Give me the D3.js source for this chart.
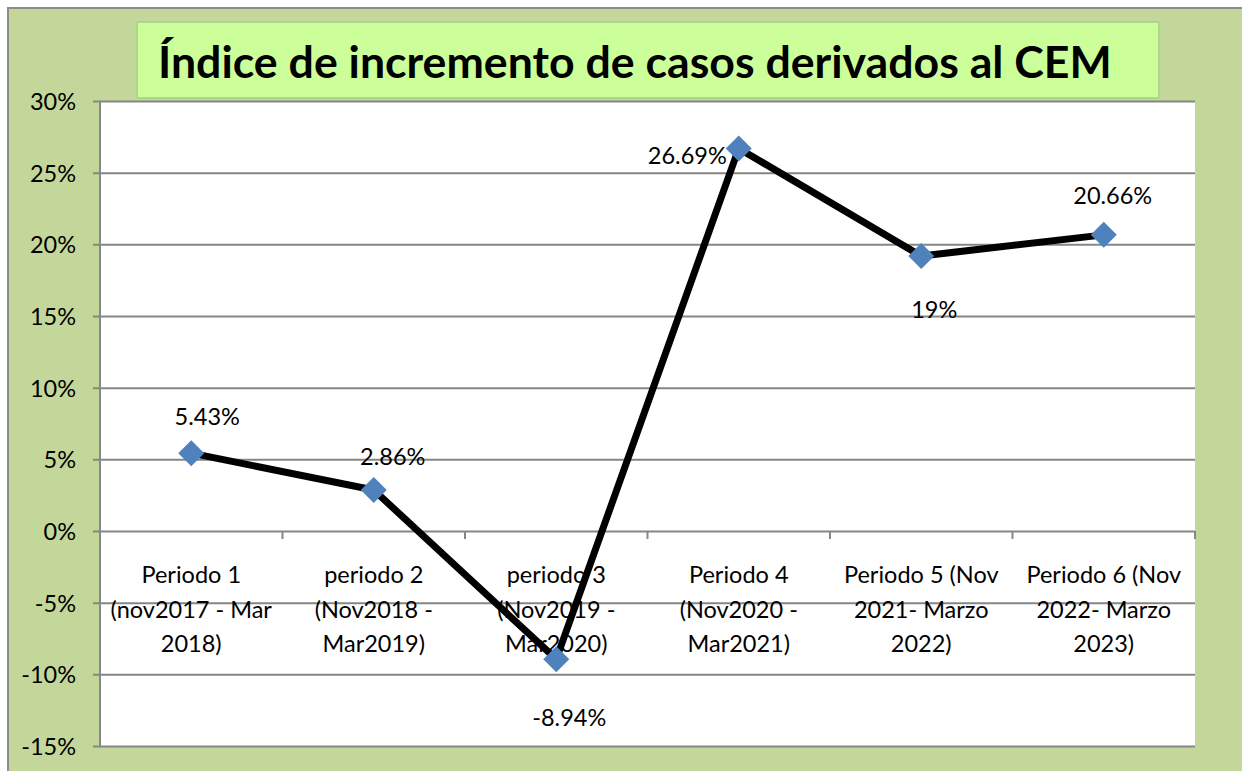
<!DOCTYPE html>
<html>
<head>
<meta charset="utf-8">
<title>Índice de incremento de casos derivados al CEM</title>
<script src="https://d3js.org/d3.v7.min.js"></script>
<style>
  body { margin: 0; background: #fff; }
  text { font-family: Lato, "Open Sans", sans-serif; fill: #000; }
</style>
</head>
<body>
<div id="output"></div>
<script>
// data
var categories = [
  ["Periodo 1", "(nov2017 - Mar", "2018)"],
  ["periodo 2", "(Nov2018  -", "Mar2019)"],
  ["periodo 3", "(Nov2019 -", "Mar2020)"],
  ["Periodo 4", "(Nov2020 -", "Mar2021)"],
  ["Periodo 5 (Nov", "2021- Marzo", "2022)"],
  ["Periodo 6 (Nov", "2022- Marzo", "2023)"]
];
var values = [5.43, 2.86, -8.94, 26.69, 19.18, 20.66];
var valueLabels = ["5.43%", "2.86%", "-8.94%", "26.69%", "19%", "20.66%"];
var yTicks = [-15, -10, -5, 0, 5, 10, 15, 20, 25, 30];
var title = "Índice de incremento de casos derivados al CEM";

// label placement (dx, dy from the marker, anchor)
var labelPlace = [
  [16, -28, "middle"], [19, -25, "middle"], [13, 67, "middle"],
  [-12, 16, "end"], [13, 62, "middle"], [9, -31, "middle"]
];

var W = 1242, H = 771;
var plot = {left: 100, right: 1195, top: 101, bottom: 746};
var fs = 23.5;

var svg = d3.select("#output").append("svg")
  .attr("width", W).attr("height", H);

// chart area background
svg.append("rect")
  .attr("x", 8).attr("y", 8).attr("width", W).attr("height", H)
  .attr("fill", "#c4d79b").attr("stroke", "#8c8c8c").attr("stroke-width", 2);

svg.append("rect")
  .attr("x", plot.left).attr("y", plot.top)
  .attr("width", plot.right - plot.left).attr("height", plot.bottom - plot.top)
  .attr("fill", "#fff");

var x = d3.scaleBand()
  .domain(d3.range(categories.length))
  .range([plot.left, plot.right]);

var y = d3.scaleLinear()
  .domain([-15, 30])
  .range([plot.bottom, plot.top]);

// horizontal gridlines + y ticks
var yAxis = d3.axisLeft(y)
  .tickValues(yTicks)
  .tickSize(-(plot.right - plot.left))
  .tickPadding(24)
  .tickFormat(function(d){ return d + "%"; });

var gy = svg.append("g")
  .attr("transform", "translate(" + plot.left + ",0)")
  .call(yAxis);
gy.select(".domain").remove();
gy.selectAll(".tick line")
  .attr("x1", -7)
  .attr("stroke", "#868686").attr("stroke-width", 2);
gy.selectAll(".tick text")
  .attr("font-size", fs).attr("font-family", "Lato").attr("fill", "#000")
  .attr("dy", "0.36em");

// left axis line
svg.append("line")
  .attr("x1", plot.left).attr("x2", plot.left)
  .attr("y1", plot.top).attr("y2", plot.bottom)
  .attr("stroke", "#868686").attr("stroke-width", 2);

// category ticks on zero line
var bounds = d3.range(categories.length + 1).map(function(i){
  return i < categories.length ? x(i) : plot.right;
});
svg.selectAll(".xtick").data(bounds).enter().append("line")
  .attr("class", "xtick")
  .attr("x1", function(d){ return d; }).attr("x2", function(d){ return d; })
  .attr("y1", y(0)).attr("y2", y(0) + 8)
  .attr("stroke", "#868686").attr("stroke-width", 2);

// category labels
var cat = svg.selectAll(".cat").data(categories).enter().append("text")
  .attr("class", "cat")
  .attr("text-anchor", "middle")
  .attr("font-size", fs)
  .attr("y", 583);
cat.selectAll("tspan").data(function(d, i){
    return d.map(function(s){ return {s: s, i: i}; });
  }).enter().append("tspan")
  .attr("x", function(d){ return x(d.i) + x.bandwidth() / 2; })
  .attr("dy", function(d, j){ return j === 0 ? 0 : 34.5; })
  .text(function(d){ return d.s; });

// line
var cx = function(d, i){ return x(i) + x.bandwidth() / 2; };
var line = d3.line()
  .x(function(d, i){ return cx(d, i); })
  .y(function(d){ return y(d); });

svg.append("path")
  .datum(values)
  .attr("d", line)
  .attr("fill", "none")
  .attr("stroke", "#000")
  .attr("stroke-width", 7)
  .attr("stroke-linejoin", "round");

// diamond markers
svg.selectAll(".pt").data(values).enter().append("path")
  .attr("class", "pt")
  .attr("d", "M0,-13L13,0L0,13L-13,0Z")
  .attr("transform", function(d, i){ return "translate(" + cx(d, i) + "," + y(d) + ")"; })
  .attr("fill", "#4f81bd");

// data labels
svg.selectAll(".lbl").data(values).enter().append("text")
  .attr("class", "lbl")
  .attr("font-size", fs)
  .attr("x", function(d, i){ return cx(d, i) + labelPlace[i][0]; })
  .attr("y", function(d, i){ return y(d) + labelPlace[i][1]; })
  .attr("text-anchor", function(d, i){ return labelPlace[i][2]; })
  .text(function(d, i){ return valueLabels[i]; });

// title box
svg.append("rect")
  .attr("x", 137).attr("y", 22).attr("width", 1022).attr("height", 76)
  .attr("fill", "#ccff99").attr("stroke", "#a9d88a").attr("stroke-width", 2);

var t = svg.append("text")
  .attr("x", 158).attr("y", 78)
  .attr("font-size", 44).attr("font-weight", "bold")
  .text(title);
var tw = t.node().getComputedTextLength();
t.attr("font-size", 44 * 954 / tw);
</script>
</body>
</html>
